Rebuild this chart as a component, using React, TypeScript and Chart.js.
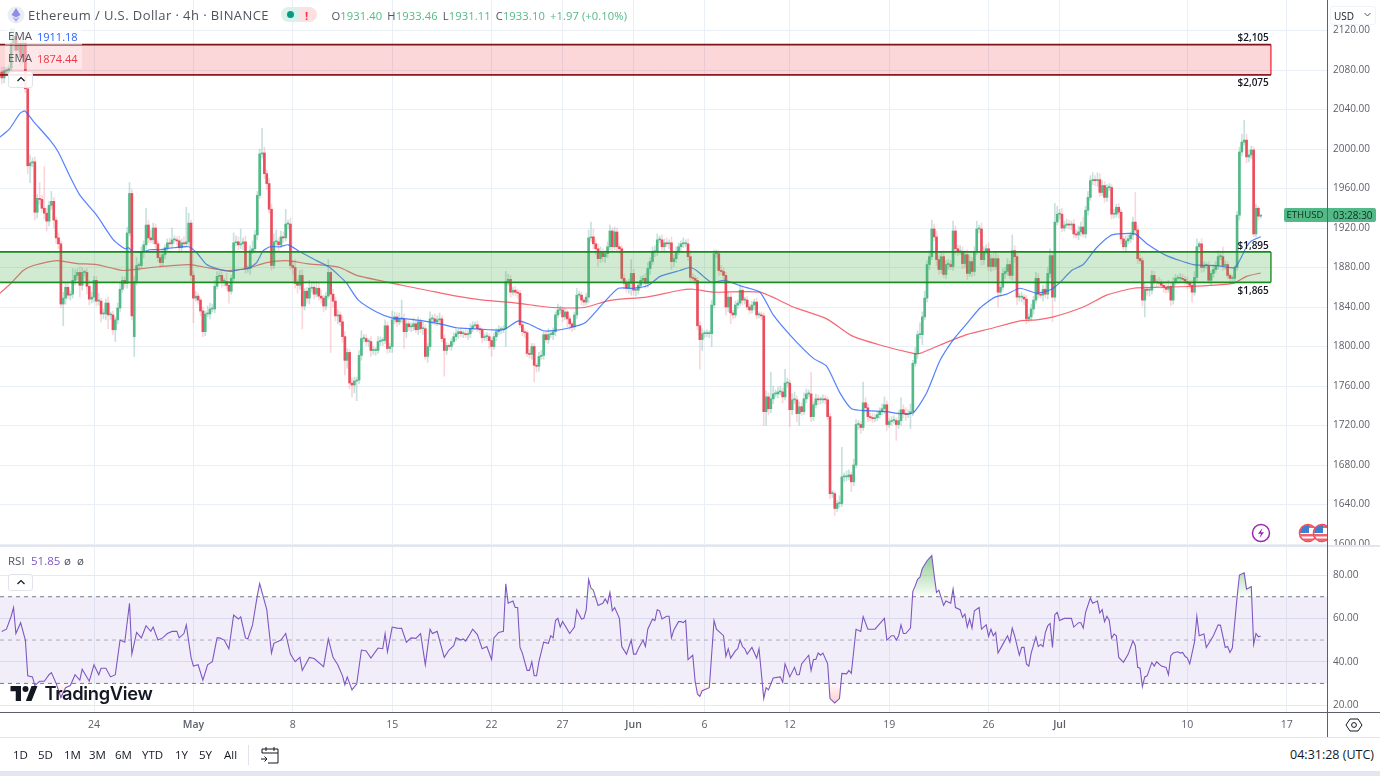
import React, { useEffect, useRef } from "react";
import { Chart, registerables } from "chart.js";
Chart.register(...registerables);

// ---------- data ----------
const firstCandle = -39; // candle index; 0 = 24 Apr 00:00, 6 candles per day
const closes = [
2072,2079,2080,2082,2107,2114,2100,2107,2093,2107,
2061,1983,1986,1987,1936,1950,1949,1940,1935,1927,
1943,1947,1928,1910,1904,1843,1849,1860,1852,1853,
1867,1872,1875,1862,1875,1875,1861,1848,1850,1867,
1846,1846,1833,1833,1844,1832,1832,1817,1827,1839,
1858,1867,1864,1915,1955,1831,1866,1882,1882,1896,
1903,1923,1910,1908,1920,1904,1890,1885,1893,1900,
1905,1904,1908,1908,1907,1900,1905,1904,1906,1925,
1872,1849,1851,1847,1836,1815,1833,1833,1838,1838,
1861,1871,1872,1866,1866,1862,1856,1869,1905,1906,
1903,1904,1906,1879,1879,1897,1899,1913,1953,1995,
1996,1975,1965,1939,1882,1906,1906,1903,1911,1910,
1924,1924,1882,1880,1864,1862,1872,1841,1856,1849,
1859,1860,1853,1859,1851,1849,1841,1851,1875,1853,
1846,1831,1832,1825,1810,1786,1794,1763,1761,1765,
1766,1791,1808,1808,1805,1805,1796,1796,1796,1805,
1806,1806,1821,1798,1800,1827,1830,1825,1828,1828,
1815,1823,1820,1820,1823,1817,1825,1818,1818,1790,
1800,1828,1828,1825,1827,1828,1808,1796,1801,1800,
1805,1810,1813,1815,1813,1813,1812,1813,1818,1821,
1822,1818,1817,1809,1810,1810,1806,1800,1810,1815,
1817,1817,1818,1866,1868,1855,1857,1855,1854,1822,
1815,1814,1793,1792,1800,1781,1780,1790,1791,1812,
1807,1812,1812,1815,1832,1837,1837,1830,1835,1828,
1823,1820,1832,1852,1852,1847,1845,1850,1910,1911,
1904,1899,1889,1895,1891,1894,1901,1917,1901,1916,
1901,1899,1869,1864,1859,1864,1874,1857,1857,1862,
1867,1869,1864,1879,1886,1896,1896,1908,1908,1901,
1905,1904,1905,1886,1889,1896,1901,1904,1904,1904,
1891,1870,1869,1867,1821,1807,1813,1813,1813,1813,
1842,1894,1894,1877,1876,1872,1840,1850,1834,1832,
1842,1844,1857,1847,1847,1840,1837,1842,1845,1832,
1832,1831,1734,1749,1737,1747,1752,1752,1754,1754,
1749,1763,1763,1736,1746,1746,1732,1739,1734,1747,
1752,1752,1729,1741,1747,1746,1746,1747,1746,1729,
1651,1651,1636,1641,1641,1668,1668,1668,1670,1663,
1680,1721,1721,1718,1743,1738,1729,1728,1727,1728,
1731,1734,1737,1741,1721,1724,1725,1725,1721,1725,
1736,1732,1731,1732,1734,1783,1793,1812,1812,1830,
1849,1883,1891,1919,1911,1888,1878,1891,1873,1883,
1883,1881,1917,1899,1896,1896,1884,1893,1874,1886,
1876,1896,1919,1919,1888,1896,1899,1881,1889,1881,
1889,1855,1860,1874,1876,1883,1872,1897,1891,1850,
1850,1850,1848,1828,1830,1838,1847,1869,1853,1852,
1858,1853,1874,1892,1850,1926,1934,1934,1920,1923,
1924,1923,1924,1914,1913,1916,1921,1914,1938,1951,
1968,1969,1968,1969,1956,1963,1951,1961,1961,1934,
1934,1941,1936,1909,1901,1907,1909,1913,1926,1918,
1889,1887,1847,1858,1857,1857,1872,1865,1865,1864,
1862,1860,1858,1861,1847,1865,1869,1869,1869,1868,
1866,1864,1862,1855,1870,1901,1904,1880,1882,1882,
1867,1874,1878,1882,1891,1891,1882,1883,1872,1869,
1869,1880,1933,1997,2007,2009,1992,1994,1999,1914,
1940,1932,1933.1,
];
const firstOpen = 2078;
const gapOpens: Record<number, number> = { 17: 1810 };
const wickUp = [
5,4,3,3,15,8,5,6,7,6,
10,6,8,4,5,4,16,4,42,5,
4,10,4,3,5,3,6,4,5,3,
12,6,4,6,5,3,4,6,5,4,
4,8,3,5,4,6,3,4,3,5,
6,4,3,6,11,4,5,8,3,5,
4,17,5,8,5,4,3,4,5,3,
4,5,12,4,3,5,4,6,35,10,
3,4,5,3,2,4,3,8,6,5,
6,5,4,4,3,8,4,3,10,6,
5,15,4,6,3,5,8,5,4,5,
25,6,4,5,5,8,12,4,6,5,
15,4,6,5,8,4,5,6,3,4,
8,6,4,7,5,6,3,4,13,4,
5,4,5,3,6,5,4,3,5,4,
3,5,8,4,4,3,5,4,3,5,
4,3,6,4,3,9,5,4,6,19,
5,4,3,4,6,4,5,3,7,4,
3,7,4,5,4,6,3,4,3,2,
3,4,5,3,4,3,4,3,5,4,
3,4,3,2,3,4,3,2,4,3,
4,3,3,10,5,4,3,4,3,3,
4,3,2,4,3,3,2,4,5,3,
4,6,3,4,3,6,4,3,4,2,
3,2,3,7,4,3,2,4,8,15,
8,4,5,6,4,3,5,6,3,5,
4,3,3,4,3,4,14,4,3,3,
4,3,5,6,4,5,6,6,4,5,
4,5,3,6,4,5,4,3,6,4,
5,6,4,3,3,4,5,3,4,3,
5,4,4,3,5,4,3,5,4,3,
4,3,6,5,3,4,3,4,3,4,
3,3,3,6,4,27,8,4,5,6,
4,14,5,3,6,8,4,5,4,6,
5,4,22,3,5,4,3,4,3,3,
3,3,2,3,8,30,4,6,5,3,
6,5,4,3,21,5,4,3,4,3,
3,4,5,8,4,3,4,5,3,10,
12,5,6,4,8,3,6,4,12,5,
7,4,6,9,5,6,4,5,6,4,
5,4,10,5,4,6,5,4,5,6,
4,5,8,4,6,5,4,6,4,5,
6,4,3,5,4,6,4,16,5,3,
4,5,3,4,3,5,4,6,5,3,
4,5,6,7,4,19,8,5,6,4,
5,4,3,5,4,6,5,10,4,6,
5,7,4,7,6,5,4,3,4,3,
5,3,4,3,3,5,4,3,5,30,
4,5,3,6,4,3,5,4,3,5,
4,3,4,6,3,5,4,3,5,4,
3,4,3,5,6,8,2,5,4,3,
4,3,5,4,6,5,10,4,3,2,
3,2,4,5,8,20,6,5,4,3,
4,2,0.4,
];
const wickDown = [
6,5,4,4,6,8,5,4,8,6,
4,8,17,4,8,6,5,4,6,10,
5,4,8,6,5,4,22,6,4,5,
4,5,4,12,5,4,8,6,4,5,
5,4,8,5,6,14,5,5,12,4,
4,3,4,5,3,4,20,4,5,3,
6,4,5,3,4,5,4,5,3,4,
3,4,5,3,4,5,3,4,3,4,
5,25,3,4,5,5,4,3,5,3,
4,3,4,6,5,4,12,3,4,3,
5,4,6,5,4,6,3,4,5,3,
4,5,6,4,5,3,4,6,3,5,
3,5,4,7,5,8,4,23,4,5,
6,4,5,3,4,5,6,4,3,59,
6,5,8,4,6,15,8,6,12,8,
20,4,5,3,4,5,6,4,5,3,
4,5,3,5,4,6,4,5,3,4,
17,6,4,5,4,3,5,4,6,3,
6,4,5,3,4,5,3,26,4,3,
4,3,4,5,3,4,3,5,4,3,
4,3,4,5,3,4,8,10,3,4,
3,4,3,18,4,5,3,4,5,3,
4,5,3,4,5,17,6,5,3,4,
3,4,3,5,4,3,4,5,3,8,
6,5,3,4,3,5,4,3,6,4,
5,6,8,4,5,6,4,3,5,3,
4,5,3,6,4,5,12,5,6,4,
3,4,5,4,6,3,5,4,3,5,
4,3,5,8,5,4,3,5,4,3,
4,5,3,5,4,30,11,4,3,4,
13,3,4,5,3,4,8,5,11,4,
3,4,3,5,4,3,4,3,5,4,
3,4,14,14,6,4,5,3,4,3,
6,3,4,17,5,4,8,12,4,3,
4,3,5,4,3,5,4,3,4,3,
5,4,7,3,4,3,5,4,3,10,
4,3,5,6,3,4,5,3,4,3,
3,4,3,5,6,3,4,3,16,4,
5,4,6,3,15,4,3,5,4,10,
3,4,5,3,4,6,5,4,3,4,
5,3,4,6,4,3,5,4,6,3,
5,4,3,4,6,5,3,4,5,4,
3,15,4,3,5,4,3,5,6,8,
4,5,6,5,3,4,5,3,4,3,
6,4,5,4,25,4,3,5,4,3,
3,4,5,4,3,5,4,3,4,5,
3,4,5,6,4,3,5,4,3,5,
4,3,6,5,3,4,3,4,5,4,
5,3,6,17,5,6,4,3,5,4,
3,5,4,3,6,4,3,5,4,3,
4,6,3,10,3,4,3,5,4,3,
3,5,4,3,4,3,5,4,3,5,
3,4,3,5,4,3,6,5,4,3,
3,4,2,
];

const ema50X = [-39.7,-35.5,-31.3,-29.2,-25.6,-18.6,-15.1,-10.1,-5.9,1.1,8.2,13.1,14.5,16.6,20.8,23.7,27.9,33.5,39.9,43.4,47.6,51.8,57.5,61.7,65.2,68.7,71.5,74.4,78.6,82.1,87,94.1,99.7,103.9,106.8,111.7,119.4,125.8,132.2,139.1,146.2,153.3,160.3,167.3,173,179.3,183.5,189.9,194.1,201.1,207.5,215.2,221.6,227.9,234.2,239.2,247.6,251.8,254.6,257.5,261,266.6,273.7,281.4,287,295.5,304,309.6,315.2,320.1,326.5,334.9,340.6,346.2,351.8,357.5,363.1,368.7,374.4,380.7,385.6,391.3,398.3,404.6,408.2,413.1,418,423.6,429.3,432.8,439.8,445.5,453.2,464.5,474.3,482.1,487,489.1,493];
const ema50Y = [2012,2021,2036,2038.5,2028,2009,1997,1972,1953,1933,1908,1899,1900,1896,1896,1898,1898,1900,1901,1895,1883,1879,1876,1878,1879,1885,1897,1901,1901,1903,1896,1887,1880,1871,1864,1847,1835,1829,1828,1826,1823,1819,1818,1817,1817,1826,1823,1816,1816,1819,1824,1844,1859,1859,1862,1871,1877,1880,1877,1871,1865,1867,1861,1855,1832,1808,1788,1780,1753,1737,1735,1734,1732,1733,1753,1786,1807,1823,1839,1850,1853,1859,1854,1858,1865,1877,1883,1900,1912,1914,1914,1903,1892,1883,1882,1880,1901,1907,1911.18];
const ema200X = [-39.7,-35.5,-29.9,-25.6,-15.8,-7.3,1.1,8.2,12.4,20.8,27.9,40.6,47.6,56.1,64.5,73,81.4,89.9,98.3,103.9,111,122.3,132.2,140.6,153.2,164.5,178.6,191.3,202.5,208.2,216.6,222.3,233.5,247.6,253.2,261.7,281.4,295.5,309.6,320.1,332.1,346.2,349,357.5,368.7,378.6,391.3,398.3,405.4,418,427.9,439.2,450.4,464.5,481.4,487,493];
const ema200Y = [1854,1863,1877,1882,1887,1884,1883,1879,1877,1879,1881,1883,1880,1877,1879,1885,1887,1884,1882,1880,1872,1866,1861,1857,1851,1847,1844,1840,1839,1840,1846,1848,1850,1857,1858,1855,1855,1840,1828,1811,1801.5,1793,1793,1801.5,1812,1818,1826,1827,1830,1840,1852,1859,1860,1861,1864,1871,1874.44];

const rsiX = [-39,-37,-35,-34,-33,-31,-29,-28,-26,-25,-23,-21,-19,-18,-16,-14,-12,-10,-8,-6,-5,-2,0,2,3,5,7,9,11,13,15,16,18,20,22,24,25,27,29,31,33,35,36,38,39,41,42,44,46,48,50,52,53,55,57,59,61,62,64,65,67,69,70,73,75,76,79,81,83,85,87,88,91,93,97,99,101,103,105,106,107,109,111,113,115,117,120,122,123,124,126,128,130,132,134,136,138,140,142,143,145,148,150,152,153,
155,156,157,159,160,162,164,166,168,169,171,173,174,175,177,178,179,180,181,183,184,185,186,187,188,190,192,193,194,195,196,197,198,201,203,204,206,207,208,209,210,211,213,215,216,217,218,219,220,222,223,225,227,228,229,230,232,233,234,236,237,238,239,240,242,243,244,245,247,248,249,250,251,253,254,255,256,257,260,262,263,266,267,268,269,271,272,273,274,275,276,278,280,281,283,284,285,287,290,291,292,294,296,297,298,299,302,303,304,305,306,307,308,310,311,313,315,316,318,319,320,322,324,325,327,330,334,335,337,338,339,340,341,342,343,345,346,347,348,
349,350,352,354,355,356,357,359,360,362,363,364,366,367,368,369,370,371,372,374,375,377,378,379,380,381,382,384,386,387,388,389,391,392,393,394,395,396,398,399,400,401,402,403,404,405,406,407,408,410,413,414,416,417,418,419,421,422,424,425,426,427,428,429,430,431,432,433,435,437,439,440,441,442,443,444,445,447,448,449,451,453,454,455,456,458,459,460,461,462,463,465,466,467,469,470,473,475,476,478,479,480,481,483,484,486,487,489,490,491,492,493];
const rsiValues = [54,55,61,65,53,58,50,33.5,33,29,31,31,34,35,30,23.5,28,29,34,31.5,36.5,31,38.6,34,37,37,33,34,50,49,67,43.5,53.5,51,56.6,54,56,50,51,53,54,54,51,53,57,42,38,38.6,31.5,38.6,40,51,51,50,46,61.5,59.7,60.7,51,50.5,57,70.5,76,64,44,48.5,50,53,43.5,40,42,36,42,41.5,37.7,50.5,42,38.6,33.5,29.4,33,27,29.7,45.4,45,41.7,46.3,46,53,44.6,56,55.5,55.4,49,51,50.8,53,38.6,55,53,54,42,45.4,47.4,51,
50,50.5,49.5,53,55,52.5,46,47,41,51,53.5,54,76,67,68,65,65,46.6,44,36,36,40,33.5,33.5,40,49,48.5,52,51,59,60,56,58.6,53,56,64,59.7,60,64,78,74,73,66,67,69,67,72,63.5,65,60,47,43.5,50,43.5,43.5,46,50,47,55,59.7,59,64,63.5,59.7,61,61,51,54.6,58.5,58.5,58,59,41,43,31,25,24,26.6,28,59,55,52,42.5,46,41.7,45,46,50,47,46,43.5,46.6,41.7,46,23,28,27,32.5,33,30.5,39,33,37.4,34,34,39,43,36,41,41,44,43,44,39,23,21,23,34.6,34.4,36,34.6,55,54,60.8,55,55,60,50,52,52,50,52,57,53,53,55.5,72.5,75,78,
79,83,86.6,89,80,72,73,66,68,67,73.5,65,64,60.5,62,56,59.7,55.5,63.5,65,55,57,51.7,55,52,53.5,44,48,52,49,55.5,52,43,46.6,46.6,39,38,44,51.5,47,48,47,53.5,56.6,57.7,46.6,61.7,62.8,59,60,60,56,58,58,55.5,62.8,69.4,67,68,62.5,64,58.5,61,59,50.8,52.8,52,42,39.7,43.5,49.7,47.4,37.4,37,28.5,33,33.5,39.7,38,40,38,37.4,34,42.8,44,44.6,44,44.3,42.5,41.7,39,49,61,52,52.8,46.6,52,57,56.8,46.6,47,44.3,46.3,69.7,80,81,73.5,74.6,48,53,51.5,51.85];

const priceTicks = [1600,1640,1680,1720,1760,1800,1840,1880,1920,1960,2000,2040,2080,2120];
const rsiTicks = [20,40,60,80];
const rsiLevels = [70,50,30];
const dateTicks = [0,42,84,126,168,198,228,258,294,336,378,408,462,504];
const dateLabels = ["24","May","8","15","22","27","Jun","6","12","19","26","Jul","10","17"];
const boldDates = ["May","Jun","Jul"];
const resistanceZone = [2105.8, 2075];
const supportZone = [1895.8, 1865];

// ---------- styles ----------
const UP = "#53b987", DOWN = "#eb4d5c";
const UP_W = "rgba(110,175,170,0.38)", DOWN_W = "rgba(239,83,100,0.24)";
const GRID = "#e9eff4";
const XMIN = -39.72, XMAX = 521, ZONE_END = 497.3;
const FONT = "'Open Sans', sans-serif";
const AXIS_TEXT = "#5d606b";

function zoneDatasets(z: number[], fill: string, edge: string, side: string) {
  const line = (y: number, f: any) => ({
    type: "line", order: 0, data: [{ x: XMIN, y }, { x: ZONE_END, y }],
    borderColor: edge, borderWidth: 1.8, pointRadius: 0, fill: f, backgroundColor: fill,
  });
  return [
    line(z[0], "+1"),
    line(z[1], false),
    { type: "line", order: 0, data: [{ x: ZONE_END, y: z[0] }, { x: ZONE_END, y: z[1] }],
      borderColor: side, borderWidth: 1.4, pointRadius: 0, fill: false },
  ];
}
const fixAxisWidth = (s: any) => { s.width = 53; s.paddingTop = 0; s.paddingBottom = 0; };

function Txt({ x, y, size = 12, color = "#131722", weight = 400, right, children, font, ls }: any) {
  const st: any = { position: "absolute", top: y, transform: "translateY(-50%)", fontSize: size, color,
    fontWeight: weight, fontFamily: font || FONT, whiteSpace: "nowrap", lineHeight: 1, letterSpacing: ls };
  if (right !== undefined) st.right = right; else st.left = x;
  return <div style={st}>{children}</div>;
}
function Box({ x, y, w, h, bg, style }: any) {
  return <div style={{ position: "absolute", left: x, top: y, width: w, height: h, background: bg, ...style }} />;
}
function Chevron({ x, y }: any) {
  return (
    <div style={{ position: "absolute", left: x, top: y, width: 25, height: 17, boxSizing: "border-box", background: "rgba(255,255,255,.9)",
      border: "1px solid #e0e3eb", borderRadius: 3 }}>
      <svg width="23" height="15" style={{ display: "block" }}><path d="M8.5 9 L12 5.5 L15.5 9" fill="none" stroke="#131722" strokeWidth="1.2" /></svg>
    </div>
  );
}
function Flag({ x }: any) {
  return (
    <svg width="20" height="20" style={{ position: "absolute", left: x, top: 523 }}>
      <defs><clipPath id={"f" + x}><circle cx="10" cy="10" r="8" /></clipPath></defs>
      <g clipPath={`url(#f${x})`}>
        <rect width="20" height="20" fill="#fff" />
        <rect y="2" width="20" height="3" fill="#f0626c" /><rect y="11" width="20" height="2.5" fill="#f0626c" /><rect y="15.5" width="20" height="3" fill="#f0626c" />
        <rect x="2" y="2" width="9" height="8" fill="#3f7fd0" />
      </g>
      <circle cx="10" cy="10" r="8.5" fill="none" stroke="#f0505c" strokeWidth="1.6" />
    </svg>
  );
}

export default function App() {
  const priceRef = useRef<HTMLCanvasElement>(null);
  const rsiRef = useRef<HTMLCanvasElement>(null);

  useEffect(() => {
    document.body.style.margin = "0";
    const xs = closes.map((_, k) => firstCandle + k);
    const opens = closes.map((_, k) => gapOpens[xs[k]] ?? (k === 0 ? firstOpen : closes[k - 1]));
    const bodyColors = closes.map((c, k) => (c >= opens[k] ? UP : DOWN));
    const wickColors = closes.map((c, k) => (c >= opens[k] ? UP_W : DOWN_W));
    const xTickValues = () => dateTicks.map((value) => ({ value }));

    const price = new Chart(priceRef.current!, {
      type: "bar",
      data: {
        datasets: [
          ...zoneDatasets(resistanceZone, "rgba(242,54,69,0.2)", "#7b1518", "#f23645"),
          ...zoneDatasets(supportZone, "rgba(76,175,80,0.26)", "#178a1c", "#178a1c"),
          { type: "line", order: 1, data: ema50X.map((x, k) => ({ x, y: ema50Y[k] })), borderColor: "rgba(41,98,255,0.8)", borderWidth: 1.2, pointRadius: 0, tension: 0.2 },
          { type: "line", order: 1, data: ema200X.map((x, k) => ({ x, y: ema200Y[k] })), borderColor: "rgba(242,54,69,0.75)", borderWidth: 1.2, pointRadius: 0, tension: 0.2 },
          { type: "bar", order: 2, grouped: false, barThickness: 2, minBarLength: 1, backgroundColor: bodyColors,
            data: closes.map((c, k) => ({ x: xs[k], y: [opens[k], c] })) },
          { type: "bar", order: 3, grouped: false, barThickness: 1, backgroundColor: wickColors,
            data: closes.map((c, k) => ({ x: xs[k], y: [Math.min(opens[k], c) - wickDown[k], Math.max(opens[k], c) + wickUp[k]] })) },
        ] as any,
      },
      options: {
        animation: false, responsive: false, events: [],
        layout: { padding: 0 },
        plugins: { legend: { display: false }, tooltip: { enabled: false } },
        scales: {
          x: { type: "linear", min: XMIN, max: XMAX, offset: false, afterBuildTicks: (s: any) => { s.ticks = xTickValues(); },
            ticks: { display: false }, grid: { color: GRID, drawTicks: false, offset: false }, border: { display: false } },
          y: { position: "right", min: 1599, max: 2150.9, afterBuildTicks: (s: any) => { s.ticks = priceTicks.map((value) => ({ value })); },
            afterFit: fixAxisWidth,
            ticks: { padding: 6, autoSkip: false, color: AXIS_TEXT, font: { size: 10, family: FONT }, callback: (v: any) => Number(v).toFixed(2) },
            grid: { color: GRID, drawTicks: false }, border: { display: false } },
        },
      } as any,
    });

    const ctx = rsiRef.current!.getContext("2d")!;
    const gUp = ctx.createLinearGradient(0, 8, 0, 50);
    gUp.addColorStop(0, "rgba(76,175,80,0.65)"); gUp.addColorStop(1, "rgba(76,175,80,0.03)");
    const gDown = ctx.createLinearGradient(0, 137, 0, 162);
    gDown.addColorStop(0, "rgba(255,82,82,0.03)"); gDown.addColorStop(1, "rgba(255,82,82,0.35)");
    const rsiPts = rsiX.map((x, k) => ({ x, y: rsiValues[k] }));
    const level = (v: number, fill: any, color: string) => ({
      type: "line", order: 5, data: [{ x: XMIN, y: v }, { x: XMAX, y: v }], borderColor: color, borderWidth: 1,
      borderDash: [4, 4], pointRadius: 0, fill, backgroundColor: "rgba(126,87,194,0.1)",
    });
    const rsi = new Chart(rsiRef.current!, {
      type: "line",
      data: {
        datasets: [
          level(rsiLevels[0], "+2", "#787b86"),
          level(rsiLevels[1], false, "#b2b5be"),
          level(rsiLevels[2], false, "#787b86"),
          { order: 3, data: rsiPts, borderWidth: 0, pointRadius: 0, fill: { target: { value: 70 }, above: gUp, below: "rgba(0,0,0,0)" } },
          { order: 3, data: rsiPts, borderWidth: 0, pointRadius: 0, fill: { target: { value: 30 }, above: "rgba(0,0,0,0)", below: gDown } },
          { order: 1, data: rsiPts, borderColor: "#7e57c2", borderWidth: 1.1, pointRadius: 0, fill: false },
        ] as any,
      },
      options: {
        animation: false, responsive: false, events: [],
        layout: { padding: 0 },
        plugins: { legend: { display: false }, tooltip: { enabled: false } },
        scales: {
          x: { type: "linear", min: XMIN, max: XMAX, afterBuildTicks: (s: any) => { s.ticks = xTickValues(); },
            afterFit: (s: any) => { s.height = 26; s.paddingLeft = 0; s.paddingRight = 0; },
            ticks: { autoSkip: false, maxRotation: 0, padding: 7, color: AXIS_TEXT,
              font: (c: any) => ({ size: 10.5, family: FONT, weight: boldDates.includes(c.tick && dateLabels[dateTicks.indexOf(c.tick.value)]) ? "600" : "400" }),
              callback: (v: any) => dateLabels[dateTicks.indexOf(Number(v))] },
            grid: { color: GRID, drawTicks: false }, border: { display: false } },
          y: { position: "right", min: 16.8, max: 93.4, afterBuildTicks: (s: any) => { s.ticks = rsiTicks.map((value) => ({ value })); },
            afterFit: fixAxisWidth,
            ticks: { padding: 6, autoSkip: false, color: AXIS_TEXT, font: { size: 10, family: FONT }, callback: (v: any) => Number(v).toFixed(2) },
            grid: { color: "#e3e8f2", drawTicks: false }, border: { display: false } },
        },
      } as any,
    });
    return () => { price.destroy(); rsi.destroy(); };
  }, []);

  return (
    <div style={{ position: "fixed", left: 0, top: 0, width: 1380, height: 776, overflow: "hidden", background: "#fff", fontFamily: FONT }}>
      <canvas ref={priceRef} width={1380} height={545} style={{ position: "absolute", left: 0, top: 0, display: "block" }} />
      <canvas ref={rsiRef} width={1380} height={192} style={{ position: "absolute", left: 0, top: 546, display: "block" }} />

      {/* frame lines */}
      <Box x={0} y={544.5} w={1380} h={2} bg="#e3e6ee" />
      <Box x={1326.5} y={0} w={1.5} h={737} bg="#5d606b" />
      <Box x={0} y={711.5} w={1380} h={1.3} bg="#5d606b" />
      <Box x={0} y={737} w={1380} h={1.3} bg="#e3e6ee" />
      <Box x={0} y={771} w={1380} h={5} bg="#e3e6ee" />

      {/* header */}
      <svg width="24" height="24" style={{ position: "absolute", left: 5, top: 4 }}>
        <circle cx="11" cy="11" r="8.5" fill="#eceef6" />
        <path d="M11 4 L15.5 11 L11 13.5 L6.5 11 Z" fill="#8e8ee6" /><path d="M11 14.8 L15 12.4 L11 18 L7 12.4 Z" fill="#a9a9ee" />
      </svg>
      <Txt x={28} y={15} size={13} color="#50535e" ls="0.42px">Ethereum / U.S. Dollar · 4h · BINANCE</Txt>
      <Box x={281} y={7} w={18} h={15} bg="#daf1ec" style={{ borderRadius: "8px 0 0 8px" }} />
      <Box x={299} y={7} w={18} h={15} bg="#fde0e2" style={{ borderRadius: "0 8px 8px 0" }} />
      <Box x={287} y={11} w={7} h={7} bg="#089981" style={{ borderRadius: "50%" }} />
      <Txt x={305} y={14.5} size={11} color="#f23645" weight={700}>!</Txt>
      <Txt x={331.5} y={15.5} size={11.2} color="#53b987" ls="0.1px">
        {[["O", "1931.40"], ["H", "1933.46"], ["L", "1931.11"], ["C", "1933.10"]].map(([a, b]) => (
          <span key={a} style={{ marginRight: 5 }}><span style={{ color: "#50535e" }}>{a}</span>{b}</span>
        ))}
        <span>+1.97 (+0.10%)</span>
      </Txt>

      {/* legends */}
      <Box x={5} y={27} w={77} h={18} bg="rgba(255,255,255,.55)" />
      <Box x={5} y={46} w={77} h={23} bg="rgba(255,255,255,.4)" />
      <Txt x={8} y={36} size={11.5} color="#50535e">EMA</Txt>
      <Txt x={37} y={36} size={11} color="#2962ff">1911.18</Txt>
      <Txt x={8} y={58} size={11.5} color="#50535e">EMA</Txt>
      <Txt x={37} y={58} size={11} color="#f23645">1874.44</Txt>
      <Chevron x={8} y={71} />
      <Txt x={8} y={560.5} size={11.5} color="#50535e">RSI</Txt>
      <Txt x={31} y={560.5} size={11.5} color="#7e57c2">51.85</Txt>
      <Txt x={64} y={560.5} size={11.5} color="#50535e">ø</Txt>
      <Txt x={77} y={560.5} size={11.5} color="#50535e">ø</Txt>
      <Chevron x={8} y={574} />

      {/* zone labels */}
      <Txt x={1237.5} y={37} size={10} color="#131722" weight={600}>$2,105</Txt>
      <Txt x={1237.5} y={82} size={10} color="#131722" weight={600}>$2,075</Txt>
      <Txt x={1237.5} y={245} size={10} color="#131722" weight={600}>$1,895</Txt>
      <Txt x={1237.5} y={290} size={10} color="#131722" weight={600}>$1,865</Txt>

      {/* axis furniture */}
      <div style={{ position: "absolute", left: 1331, top: 7, width: 44, height: 17, background: "#fff", borderRadius: 3, boxShadow: "0 0 0 1px #f0f3fa" }} />
      <Txt x={1334} y={15.5} size={10} color="#131722">USD</Txt>
      <svg width="10" height="8" style={{ position: "absolute", left: 1363, top: 11 }}><path d="M1.5 2 L4.5 5 L7.5 2" fill="none" stroke="#50535e" strokeWidth="1" /></svg>
      <Box x={1284} y={208} w={43} h={14} bg="#53b987" style={{ borderRadius: "2px 0 0 2px" }} />
      <Box x={1327.5} y={208} w={48} h={14} bg="#53b987" style={{ borderRadius: "0 2px 2px 0" }} />
      <Txt x={1286.5} y={215.2} size={9.6} color="#0f2e20">ETHUSD</Txt>
      <Txt x={1333} y={215.2} size={10} color="#0f2e20">03:28:30</Txt>

      {/* event icons */}
      <svg width="20" height="20" style={{ position: "absolute", left: 1251, top: 523 }}>
        <circle cx="10" cy="10" r="8.5" fill="#fff" stroke="#9c27b0" strokeWidth="1.5" />
        <path d="M11.5 5 L7 10.8 L10 10.8 L8.5 15 L13 9.2 L10 9.2 Z" fill="#9c27b0" />
      </svg>
      <div style={{ position: "absolute", left: 1290, top: 0, width: 36.5, height: 544, overflow: "hidden", pointerEvents: "none" }}>
        <div style={{ position: "absolute", left: -1290, top: 0 }}><Flag x={1298} /><Flag x={1312} /></div>
      </div>

      {/* logo */}
      <svg width="28" height="15" viewBox="0 0 36 20" style={{ position: "absolute", left: 10, top: 685.5 }}>
        <path d="M14 20H7V7H0V0h14zM28 20h-7.5L28 0h8z" fill="#131722" /><circle cx="20" cy="4" r="4" fill="#131722" />
      </svg>
      <Txt x={44.5} y={693} size={18.3} color="#131722" weight={600} font="Inter, sans-serif" ls="-0.3px">TradingView</Txt>

      {/* bottom toolbar */}
      {[["1D", 13], ["5D", 38], ["1M", 64], ["3M", 89], ["6M", 115], ["YTD", 142], ["1Y", 175], ["5Y", 199], ["All", 224]].map(([t, x]) => (
        <Txt key={t as string} x={x} y={755} size={11.5} color="#131722">{t}</Txt>
      ))}
      <Box x={248} y={745} w={1} h={20} bg="#e0e3eb" />
      <svg width="20" height="20" style={{ position: "absolute", left: 259, top: 745 }}>
        <path d="M3 8 V4 H19 V18 H9 M3 8 H19 M7 2 V6 M15 2 V6 M2 14 H8 M5.5 11.5 L8 14 L5.5 16.5" fill="none" stroke="#131722" strokeWidth="1" />
      </svg>
      <Txt right={6} y={755} size={12.5} color="#131722">04:31:28 (UTC)</Txt>
      <svg width="18" height="18" style={{ position: "absolute", left: 1345, top: 716 }}>
        <path d="M5 3 H13 L17 9 L13 15 H5 L1 9 Z" fill="none" stroke="#131722" strokeWidth="1" /><circle cx="9" cy="9" r="2.4" fill="none" stroke="#131722" strokeWidth="1" />
      </svg>
    </div>
  );
}
